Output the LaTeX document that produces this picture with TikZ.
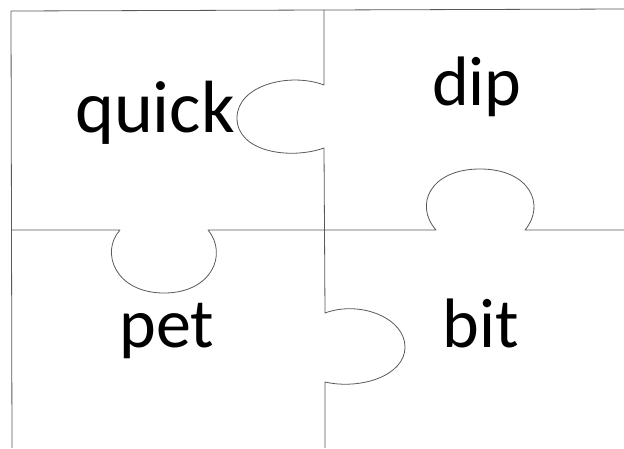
\documentclass[tikz,border=0pt]{standalone}
\usepackage{fontspec}
\setmainfont{Carlito}
\begin{document}
\begin{tikzpicture}[x=1pt,y=-1pt,
  edge/.style={draw=black!65,line width=0.8pt,line join=round},
  word/.style={font=\fontsize{70}{80}\selectfont,inner sep=0pt,anchor=base}]
\useasboundingbox (0,0) rectangle (624,448);
% outer top and left
\draw[edge] (624,9) -- (324,10) -- (11,11) -- (12,448);
% middle horizontal with knobs
\draw[edge] (12,230) -- (120,230) .. controls (100,252) and (115,293) .. (164,293)
  .. controls (212,293) and (228,254) .. (208,230) -- (436,230)
  .. controls (414,205) and (430,169) .. (480,169)
  .. controls (530,169) and (546,205) .. (525,230) -- (624,230);
% middle vertical with knobs
\draw[edge] (324,10) -- (324,85) .. controls (290,72) and (237,85) .. (237,118)
  .. controls (237,152) and (290,160) .. (324,148) -- (325,313)
  .. controls (360,300) and (405,318) .. (405,347)
  .. controls (405,376) and (360,390) .. (325,382) -- (325,448);
\node[word,font=\fontsize{74}{80}\selectfont] (quick) at (155,132) {quick};
\node[word] (dip) at (477,105) {dip};
\node[word] (pet) at (167,347) {pet};
\node[word] (bit) at (481,347) {bit};
\end{tikzpicture}
\end{document}
